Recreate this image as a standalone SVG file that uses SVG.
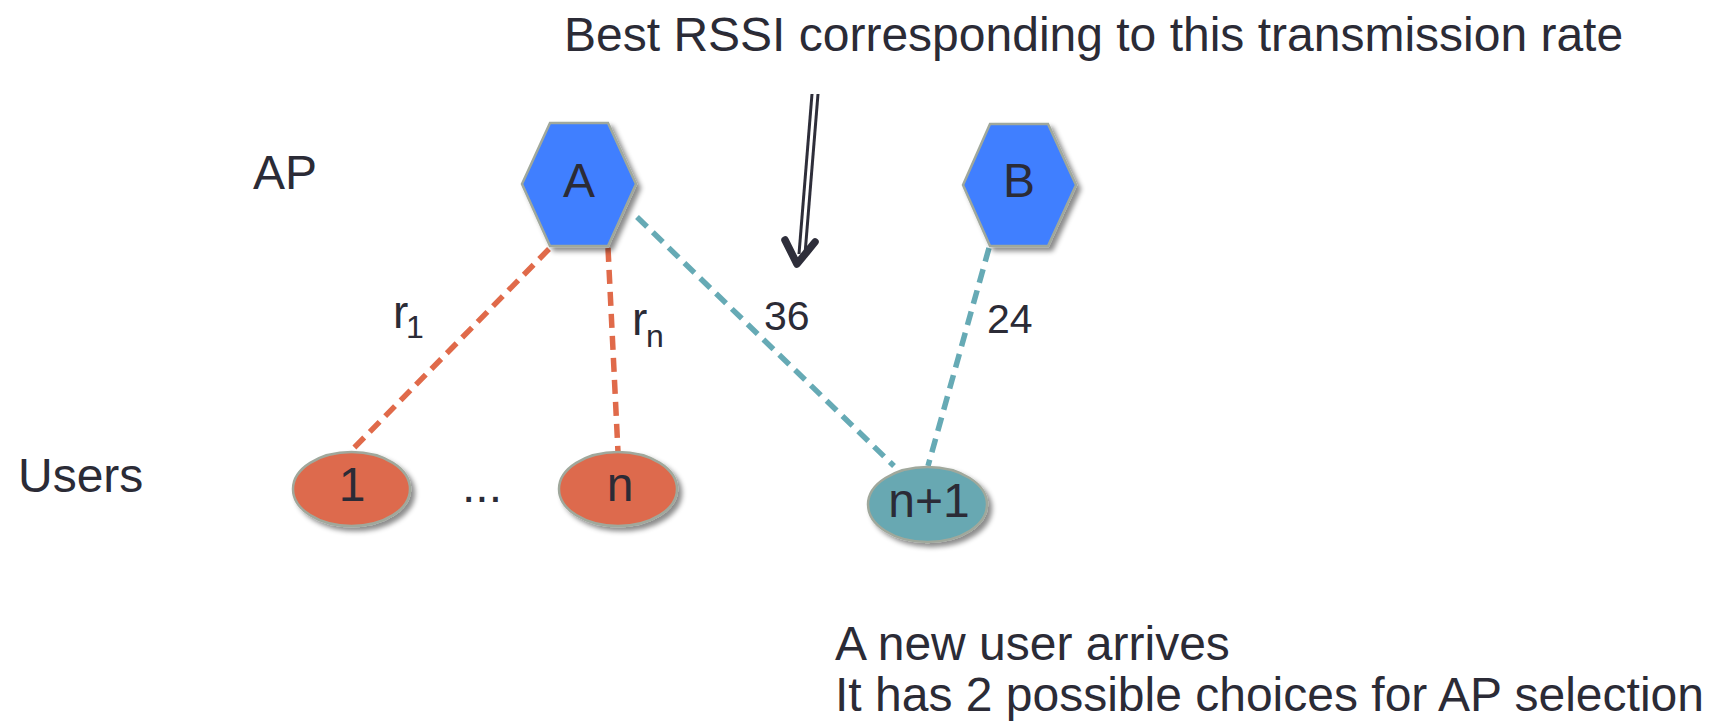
<svg xmlns="http://www.w3.org/2000/svg" width="1711" height="725" viewBox="0 0 1711 725">
<style>
text{font-family:"Liberation Sans",Arial,sans-serif;fill:#2b2b36}
.lbl{font-size:48px}
.num{font-size:41px}
.sub{font-size:32px}
.hex{fill:#3f7fff;stroke:#a0a89c;stroke-width:2.5}
.uo{fill:#dd6b4d;stroke:#a0a89c;stroke-width:2.5}
.ut{fill:#67a8b2;stroke:#a0a89c;stroke-width:2.5}
.eo{stroke:#e06a4a;stroke-width:5.5;stroke-dasharray:14 8;fill:none}
.et{stroke:#66aab5;stroke-width:5.5;stroke-dasharray:14 8;fill:none}
.mid{text-anchor:middle}
</style>
<defs>
<filter id="sh" x="-20%" y="-20%" width="150%" height="150%">
<feDropShadow dx="4" dy="4" stdDeviation="2.5" flood-color="#000" flood-opacity="0.45"/>
</filter>
</defs>
<rect width="1711" height="725" fill="#fff"/>
<g id="connectors">
<line class="eo" x1="549" y1="249" x2="350" y2="452"/>
<line class="eo" x1="608" y1="248" x2="618" y2="452"/>
<line class="et" x1="637" y1="217" x2="894" y2="466"/>
<line class="et" x1="989" y1="248" x2="928" y2="466"/>
</g>
<g id="ap-A">
<polygon class="hex" filter="url(#sh)" points="550,123 608,123 636,184 608,246 550,246 522,184"/>
<text class="lbl mid" x="579" y="197">A</text>
</g>
<g id="ap-B">
<polygon class="hex" filter="url(#sh)" points="990,124 1048,124 1076,185 1048,246 990,246 963,185"/>
<text class="lbl mid" x="1019" y="197">B</text>
</g>
<g id="user-1">
<ellipse class="uo" filter="url(#sh)" cx="351.5" cy="489" rx="58.5" ry="37"/>
<text class="lbl mid" x="352" y="501">1</text>
</g>
<g id="user-n">
<ellipse class="uo" filter="url(#sh)" cx="618" cy="489" rx="59" ry="37"/>
<text class="lbl mid" x="620" y="501">n</text>
</g>
<g id="user-n1">
<ellipse class="ut" filter="url(#sh)" cx="927.5" cy="504.5" rx="59.5" ry="37.5"/>
<text class="lbl mid" x="929" y="517" font-size="44">n+1</text>
</g>
<g id="arrow">
<line x1="812" y1="94" x2="799" y2="254" stroke="#2e2e3a" stroke-width="3"/>
<line x1="818" y1="94" x2="805" y2="254" stroke="#2e2e3a" stroke-width="3"/>
<path d="M785,240 L797,264 L815,242" fill="none" stroke="#2e2e3a" stroke-width="7.5" stroke-linecap="round" stroke-linejoin="round"/>
</g>
<g id="labels">
<text class="lbl" x="253" y="189">AP</text>
<text class="lbl" x="18" y="492">Users</text>
<text class="lbl" x="462" y="502">...</text>
<text x="393" y="328" font-size="46">r</text>
<text class="sub" x="406" y="338">1</text>
<text x="632" y="335" font-size="46">r</text>
<text class="sub" x="646" y="347">n</text>
<text class="num" x="764" y="330">36</text>
<text class="num" x="987" y="333">24</text>
<text class="lbl" x="564" y="51">Best RSSI corresponding to this transmission rate</text>
<text class="lbl" x="835" y="660">A new user arrives</text>
<text class="lbl" x="835" y="711">It has 2 possible choices for AP selection</text>
</g>
</svg>
